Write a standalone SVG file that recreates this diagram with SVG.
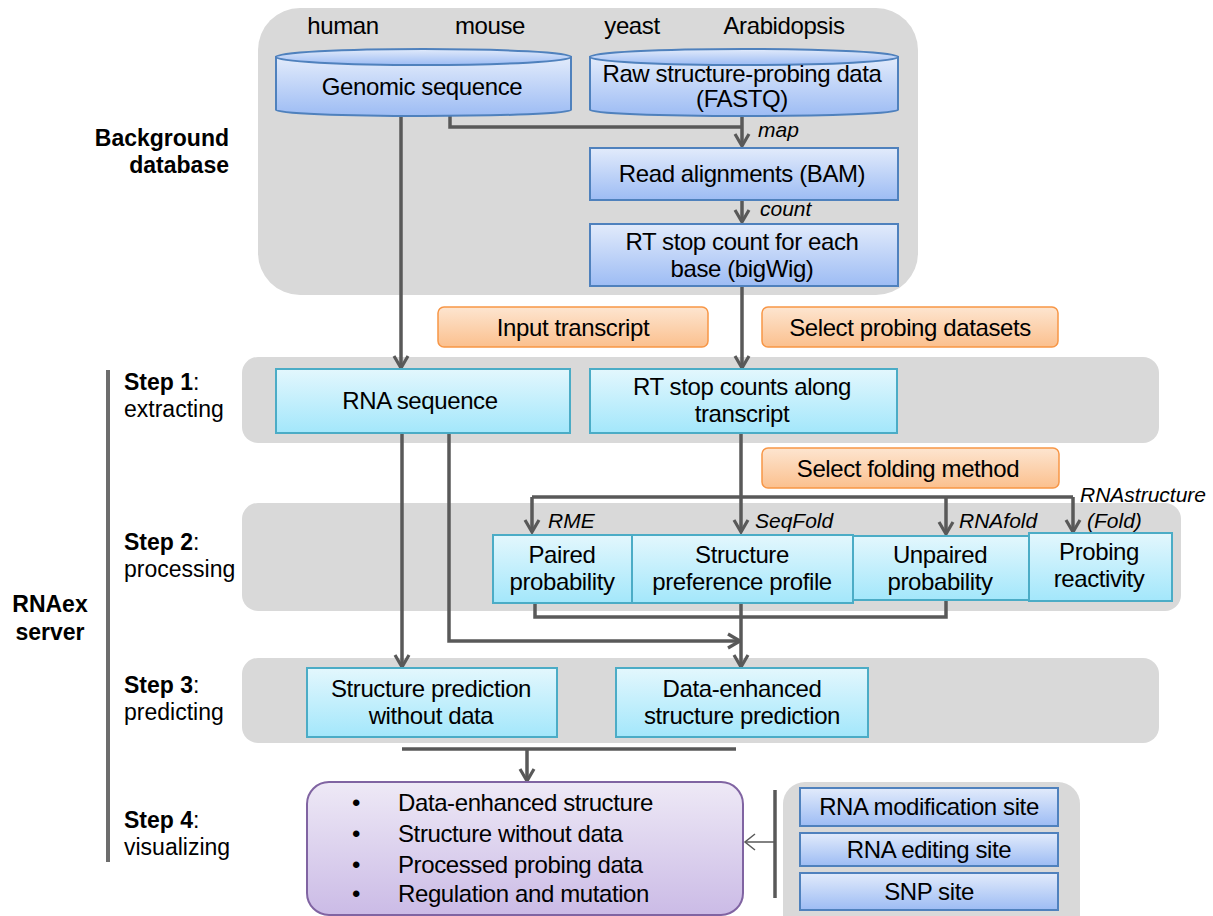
<svg xmlns="http://www.w3.org/2000/svg" width="1213" height="916" viewBox="0 0 1213 916">
<defs>
<linearGradient id="gBlue" x1="0" y1="0" x2="0" y2="1"><stop offset="0" stop-color="#e2ebfb"/><stop offset="1" stop-color="#9dbcf4"/></linearGradient>
<linearGradient id="gCyan" x1="0" y1="0" x2="0" y2="1"><stop offset="0" stop-color="#e3f7fd"/><stop offset="1" stop-color="#a3e7fb"/></linearGradient>
<linearGradient id="gOrange" x1="0" y1="0" x2="0" y2="1"><stop offset="0" stop-color="#fde5d0"/><stop offset="1" stop-color="#fbc08e"/></linearGradient>
<linearGradient id="gPurple" x1="0" y1="0" x2="0" y2="1"><stop offset="0" stop-color="#eee9f6"/><stop offset="1" stop-color="#cbbbe6"/></linearGradient>
<marker id="arr" markerUnits="userSpaceOnUse" viewBox="-14 -9 16 18" refX="0" refY="0" markerWidth="16" markerHeight="18" orient="auto">
<path d="M-12,-7 L0,0 L-12,7" fill="none" stroke="#595959" stroke-width="3.2"/>
</marker>
<marker id="arrThin" markerUnits="userSpaceOnUse" viewBox="-12 -9 14 18" refX="0" refY="0" markerWidth="14" markerHeight="18" orient="auto">
<path d="M-10,-8 L0,0 L-10,8" fill="none" stroke="#595959" stroke-width="1.5"/>
</marker>
</defs>
<style>
.panel{fill:#d9d9d9;}
.blue{fill:url(#gBlue);stroke:#4f81bd;stroke-width:2;}
.cyan{fill:url(#gCyan);stroke:#4bacc6;stroke-width:2;}
.orange{fill:url(#gOrange);stroke:#f79646;stroke-width:1.5;}
.purple{fill:url(#gPurple);stroke:#8064a2;stroke-width:2;}
.t{font-family:"Liberation Sans",Arial,sans-serif;font-size:24px;letter-spacing:-0.4px;fill:#000;text-anchor:middle;}
.tl{font-family:"Liberation Sans",Arial,sans-serif;font-size:24px;letter-spacing:-0.4px;fill:#000;text-anchor:start;}
.it{font-family:"Liberation Sans",Arial,sans-serif;font-size:21px;font-style:italic;fill:#000;}
.lab{font-family:"Liberation Sans",Arial,sans-serif;font-size:23px;fill:#000;}
.bold{font-weight:bold;}
.conn{fill:none;stroke:#595959;stroke-width:3.5;}
</style>

<g id="panels">
<rect id="bg-db" class="panel" x="258" y="8" width="660" height="287" rx="42"/>
<rect id="step1-panel" class="panel" x="242" y="357" width="917" height="86" rx="16"/>
<rect id="step2-panel" class="panel" x="242" y="503" width="939" height="108" rx="16"/>
<rect id="step3-panel" class="panel" x="242" y="658" width="917" height="85" rx="16"/>
<rect id="ext-panel" class="panel" x="783" y="782" width="297" height="160" rx="22"/>
</g>

<g id="left-labels">
<text class="lab bold" x="229" y="146" text-anchor="end">Background</text>
<text class="lab bold" x="229" y="173" text-anchor="end">database</text>
<text class="lab bold" x="50" y="612" text-anchor="middle">RNAex</text>
<text class="lab bold" x="50" y="640" text-anchor="middle">server</text>
<line x1="108" y1="370" x2="108" y2="862" stroke="#6d6d6d" stroke-width="4"/>
<text class="lab" x="124" y="390"><tspan class="bold">Step 1</tspan>:</text>
<text class="lab" x="124" y="417">extracting</text>
<text class="lab" x="124" y="550"><tspan class="bold">Step 2</tspan>:</text>
<text class="lab" x="124" y="577">processing</text>
<text class="lab" x="124" y="693"><tspan class="bold">Step 3</tspan>:</text>
<text class="lab" x="124" y="720">predicting</text>
<text class="lab" x="124" y="828"><tspan class="bold">Step 4</tspan>:</text>
<text class="lab" x="124" y="855">visualizing</text>
</g>

<g id="species">
<text class="t" x="343" y="34">human</text>
<text class="t" x="490" y="34">mouse</text>
<text class="t" x="632" y="34">yeast</text>
<text class="t" x="784" y="34">Arabidopsis</text>
</g>

<g id="connectors">
<path class="conn" d="M401,112 V368" marker-end="url(#arr)"/>
<path class="conn" d="M450,112 V127 H742"/>
<path class="conn" d="M742,112 V146" marker-end="url(#arr)"/>
<path class="conn" d="M742,200 V222" marker-end="url(#arr)"/>
<path class="conn" d="M742,286 V368" marker-end="url(#arr)"/>
<path class="conn" d="M402,433 V667" marker-end="url(#arr)"/>
<path class="conn" d="M449,433 V641 H740" marker-end="url(#arr)"/>
<path class="conn" d="M741,433 V532" marker-end="url(#arr)"/>
<path class="conn" d="M532,497 H1073"/>
<path class="conn" d="M532,497 V532" marker-end="url(#arr)"/>
<path class="conn" d="M946,497 V534" marker-end="url(#arr)"/>
<path class="conn" d="M1073,497 V532" marker-end="url(#arr)"/>
<path class="conn" d="M535,603 V617 H946 V600"/>
<path class="conn" d="M741,603 V667" marker-end="url(#arr)"/>
<path class="conn" d="M402,749 H736"/>
<path class="conn" d="M527,749 V781" marker-end="url(#arr)"/>
<line x1="775" y1="790" x2="775" y2="898" stroke="#595959" stroke-width="3.5"/>
<path d="M775,842 H745" fill="none" stroke="#595959" stroke-width="1.5" marker-end="url(#arrThin)"/>
</g>

<g id="conn-labels">
<text class="it" x="758" y="137">map</text>
<text class="it" x="760" y="216">count</text>
<text class="it" x="548" y="528">RME</text>
<text class="it" x="755" y="528">SeqFold</text>
<text class="it" x="959" y="528">RNAfold</text>
<text class="it" x="1080" y="502">RNAstructure</text>
<text class="it" x="1087" y="528">(Fold)</text>
</g>

<g id="genomic">
<path class="blue" d="M276,57 V110 A147.5,6 0 0 0 571,110 V57 Z"/>
<ellipse class="blue" cx="423.5" cy="57" rx="147.5" ry="8"/>
<text class="t" x="422" y="95">Genomic sequence</text>
</g>
<g id="fastq">
<path class="blue" d="M590,57 V110 A154,6 0 0 0 898,110 V57 Z"/>
<ellipse class="blue" cx="744" cy="57" rx="154" ry="8"/>
<text class="t" x="742" y="82">Raw structure-probing data</text>
<text class="t" x="742" y="107">(FASTQ)</text>
</g>
<g id="bam">
<rect class="blue" x="590" y="148" width="308" height="52"/>
<text class="t" x="742" y="182">Read alignments (BAM)</text>
</g>
<g id="bigwig">
<rect class="blue" x="590" y="224" width="308" height="62"/>
<text class="t" x="742" y="250">RT stop count for each</text>
<text class="t" x="742" y="277">base (bigWig)</text>
</g>

<g id="input-transcript">
<rect class="orange" x="438" y="307" width="270" height="40" rx="6"/>
<text class="t" x="573" y="336">Input transcript</text>
</g>
<g id="select-datasets">
<rect class="orange" x="762" y="307" width="296" height="40" rx="6"/>
<text class="t" x="910" y="336">Select probing datasets</text>
</g>

<g id="rna-seq">
<rect class="cyan" x="276" y="369" width="294" height="64"/>
<text class="t" x="420" y="409">RNA sequence</text>
</g>
<g id="rt-counts">
<rect class="cyan" x="590" y="369" width="307" height="64"/>
<text class="t" x="742" y="395">RT stop counts along</text>
<text class="t" x="742" y="422">transcript</text>
</g>

<g id="select-folding">
<rect class="orange" x="762" y="448" width="297" height="40" rx="6"/>
<text class="t" x="908" y="477">Select folding method</text>
</g>

<g id="paired">
<rect class="cyan" x="493" y="535" width="139" height="68"/>
<text class="t" x="562" y="563">Paired</text>
<text class="t" x="562" y="590">probability</text>
</g>
<g id="pref-profile">
<rect class="cyan" x="632" y="535" width="221" height="68"/>
<text class="t" x="742" y="563">Structure</text>
<text class="t" x="742" y="590">preference profile</text>
</g>
<g id="unpaired">
<rect class="cyan" x="853" y="536" width="176" height="64"/>
<text class="t" x="940" y="563">Unpaired</text>
<text class="t" x="940" y="590">probability</text>
</g>
<g id="reactivity">
<rect class="cyan" x="1029" y="533" width="143" height="68"/>
<text class="t" x="1099" y="560">Probing</text>
<text class="t" x="1099" y="587">reactivity</text>
</g>

<g id="pred-nodata">
<rect class="cyan" x="307" y="668" width="250" height="69"/>
<text class="t" x="431" y="697">Structure prediction</text>
<text class="t" x="431" y="724">without data</text>
</g>
<g id="pred-data">
<rect class="cyan" x="616" y="668" width="252" height="69"/>
<text class="t" x="742" y="697">Data-enhanced</text>
<text class="t" x="742" y="724">structure prediction</text>
</g>

<g id="visual">
<rect class="purple" x="307" y="782" width="436" height="133" rx="22"/>
<text class="tl" x="352" y="811">•</text>
<text class="tl" x="398" y="811">Data-enhanced structure</text>
<text class="tl" x="352" y="842">•</text>
<text class="tl" x="398" y="842">Structure without data</text>
<text class="tl" x="352" y="873">•</text>
<text class="tl" x="398" y="873">Processed probing data</text>
<text class="tl" x="352" y="902">•</text>
<text class="tl" x="398" y="902">Regulation and mutation</text>
</g>

<g id="mod-site">
<rect class="blue" x="800" y="788" width="258" height="38"/>
<text class="t" x="929" y="815">RNA modification site</text>
</g>
<g id="edit-site">
<rect class="blue" x="800" y="833" width="258" height="33"/>
<text class="t" x="929" y="858">RNA editing site</text>
</g>
<g id="snp-site">
<rect class="blue" x="800" y="873" width="258" height="37"/>
<text class="t" x="929" y="900">SNP site</text>
</g>
</svg>
